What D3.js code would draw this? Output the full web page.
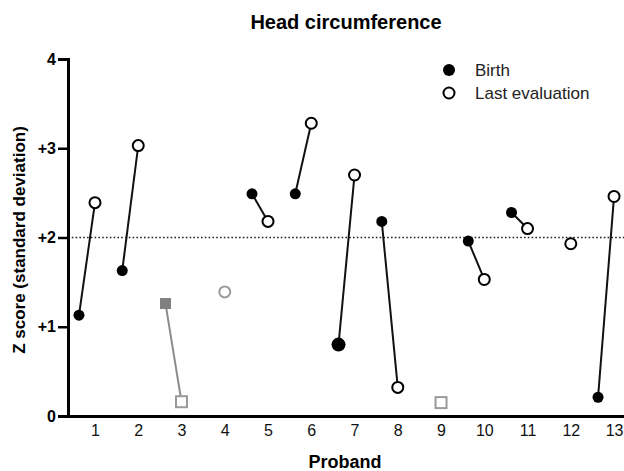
<!DOCTYPE html>
<html>
<head>
<meta charset="utf-8">
<script src="https://cdn.jsdelivr.net/npm/d3@7"></script>
<style>
body { margin: 0; background: #fff; }
text { font-family: "Liberation Sans", Arial, sans-serif; }
</style>
</head>
<body>
<div class="container"></div>
<script>
const wd = 624
const ht = 471

// data
const probands = [1, 2, 3, 4, 5, 6, 7, 8, 9, 10, 11, 12, 13]
const birth = [1.13, 1.63, 1.26, null, 2.49, 2.49, 0.80, 2.18, null, 1.96, 2.28, null, 0.21]
const lastEval = [2.39, 3.03, 0.16, 1.39, 2.18, 3.28, 2.70, 0.32, 0.15, 1.53, 2.10, 1.93, 2.46]
// grey probands, square or circle
const markerShape = ["circle", "circle", "square", "circle", "circle", "circle", "circle", "circle", "square", "circle", "circle", "circle", "circle"]
const isGrey = [false, false, true, true, false, false, false, false, true, false, false, false, false]
const yTicks = [0, 1, 2, 3, 4]
const yTickLabels = ["0", "+1", "+2", "+3", "4"]
const refLine = 2

const svgC = d3.select(".container")
.append("svg")
.attr("height", ht)
.attr("width", wd)

const x = d3.scaleLinear().domain([0.376, 13.23]).range([68, 624])
const y = d3.scaleLinear().domain([0, 4]).range([416, 59])
const birthShift = 0.37

let rows = probands.map((p, i) => ({
    p: p,
    b: birth[i],
    l: lastEval[i],
    shape: markerShape[i],
    grey: isGrey[i]
}))

// reference line at +2
svgC.append("line")
.attr("x1", x.range()[0]).attr("x2", x.range()[1])
.attr("y1", y(refLine)).attr("y2", y(refLine))
.style("stroke", "#222")
.style("stroke-width", "1.6px")
.style("stroke-dasharray", "1.6,2.2")

// connecting lines
svgC.selectAll("line.conn")
.data(rows.filter(d => d.b != null && d.l != null))
.enter()
.append("line")
.attr("class", "conn")
.attr("x1", d => x(d.p - birthShift)).attr("y1", d => y(d.b))
.attr("x2", d => x(d.p)).attr("y2", d => y(d.l))
.style("stroke", d => d.grey ? "#8c8c8c" : "#111")
.style("stroke-width", "2px")

// birth markers
rows.filter(d => d.b != null).forEach(d => {
    let cx = x(d.p - birthShift), cy = y(d.b)
    if (d.shape == "square") {
        svgC.append("rect")
        .attr("x", cx - 5.5).attr("y", cy - 5.5)
        .attr("width", 11).attr("height", 11)
        .attr("fill", "#808080")
    } else {
        svgC.append("circle")
        .attr("cx", cx).attr("cy", cy)
        .attr("r", d.p == 7 ? 7 : 5.5)
        .attr("fill", "#000")
    }
})

// last evaluation markers
rows.filter(d => d.l != null).forEach(d => {
    let cx = x(d.p), cy = y(d.l)
    let col = d.grey ? "#9a9a9a" : "#000"
    if (d.shape == "square") {
        svgC.append("rect")
        .attr("x", cx - 5.5).attr("y", cy - 5.5)
        .attr("width", 11).attr("height", 11)
        .attr("fill", "#fff")
        .style("stroke", col)
        .style("stroke-width", "2px")
    } else {
        svgC.append("circle")
        .attr("cx", cx).attr("cy", cy)
        .attr("r", 5.5)
        .attr("fill", "#fff")
        .style("stroke", col)
        .style("stroke-width", "2px")
    }
})

// y axis
const yAxis = d3.axisLeft(y)
.tickValues(yTicks)
.tickFormat((d, i) => yTickLabels[i])
.tickSize(10)
.tickPadding(2)

let gy = svgC.append("g")
.attr("transform", "translate(68,0)")
.call(yAxis)
gy.select(".domain").style("stroke", "#000").style("stroke-width", "3px")
gy.selectAll(".tick line").style("stroke", "#000").style("stroke-width", "2.5px")
gy.selectAll(".tick text")
.style("font-size", "16px")
.style("font-weight", "bold")
.attr("fill", "#000")

// x axis
const xAxis = d3.axisBottom(x)
.tickValues(probands)
.tickFormat(d3.format("d"))
.tickSize(0)
.tickPadding(9)

let gx = svgC.append("g")
.attr("transform", "translate(0,416)")
.call(xAxis)
gx.select(".domain").style("stroke", "#000").style("stroke-width", "3px")
gx.selectAll(".tick text")
.style("font-size", "16px")
.attr("fill", "#111")

// title and axis labels
svgC.append("text")
.attr("x", 346).attr("y", 29)
.attr("text-anchor", "middle")
.style("font-size", "20px")
.style("font-weight", "bold")
.text("Head circumference")

svgC.append("text")
.attr("x", 345).attr("y", 468)
.attr("text-anchor", "middle")
.style("font-size", "18px")
.style("font-weight", "bold")
.text("Proband")

svgC.append("text")
.attr("transform", "translate(25,240) rotate(-90)")
.attr("text-anchor", "middle")
.style("font-size", "17px")
.style("font-weight", "bold")
.text("Z score (standard deviation)")

// legend
const legendItems = ["Birth", "Last evaluation"]
let lg = svgC.append("g")
legendItems.forEach((t, i) => {
    let ly = 70 + i * 23
    if (i == 0) {
        lg.append("circle").attr("cx", 449).attr("cy", ly).attr("r", 6).attr("fill", "#000")
    } else {
        lg.append("circle").attr("cx", 449).attr("cy", ly).attr("r", 5.5)
        .attr("fill", "#fff").style("stroke", "#000").style("stroke-width", "2px")
    }
    lg.append("text")
    .attr("x", 475).attr("y", ly + 6)
    .style("font-size", "17px")
    .attr("fill", "#222")
    .text(t)
})
</script>
</body>
</html>
